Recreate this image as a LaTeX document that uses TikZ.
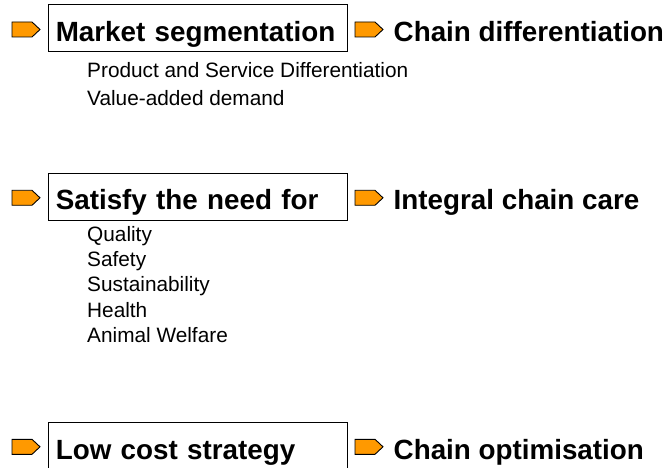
\documentclass[tikz,border=0pt]{standalone}
\usepackage{fontspec}
\setmainfont{Liberation Sans}
\usepackage{tikz}
\usetikzlibrary{positioning}
\usepackage{xcolor}
\definecolor{markorange}{HTML}{FF9900}

\begin{document}
\begin{tikzpicture}[x=1pt, y=-1pt,
		headbox/.style={draw, black, line width=1pt, anchor=base west, inner xsep=7.3pt, inner ysep=0pt,
			text width=284.4pt, align=left, text height=36.7pt, text depth=10.3pt,
			font=\fontsize{27.8}{30}\selectfont\bfseries},
		goal/.style={anchor=base west, inner sep=0pt, font=\fontsize{27.8}{30}\selectfont\bfseries},
		subitem/.style={anchor=base west, inner sep=0pt, font=\fontsize{20.8}{24}\selectfont},
		marker/.style={draw, black, line width=0.9pt, fill=markorange, line join=miter}]
				    		\useasboundingbox (0, 0) rectangle (665, 468);
				    		% differentiation
				    		\node[headbox] (market) at (48, 41.7) {Market segmentation};
				    		\node[goal] (differ) at (393.5, 41.7) {Chain differentiation};
				    		\node[subitem] (prod) at (87, 78) {Product and Service Differentiation};
				    		\node[subitem] (value) at (87, 106) {Value-added demand};
				    		% integral care
				    		\node[headbox] (satisfy) at (48, 210) {Satisfy the need for};
				    		\node[goal] (care) at (393.5, 210) {Integral chain care};
				    		\node[subitem] (quality) at (87, 242) {Quality};
				    		\node[subitem] (safety) at (87, 267) {Safety};
				    		\node[subitem] (sustain) at (87, 292) {Sustainability};
				    		\node[subitem] (health) at (87, 317) {Health};
				    		\node[subitem] (welfare) at (87, 342) {Animal Welfare};
				    		% optimisation
				    		\node[headbox, text depth=20pt] (lowcost) at (48, 459) {Low cost strategy};
				    		\node[goal] (optim) at (393.5, 459) {Chain optimisation};
				    		% orange markers
				    		\foreach \x/\y in {12/22, 355/22, 12/190.3, 355/190.3, 12/439.3, 355/439.3}
				    			\draw[marker] (\x, \y) -- ++(20, 0) -- ++(8, 7.5) -- ++(-8, 7.5) -- ++(-20, 0) -- cycle;
				    	\end{tikzpicture}
\end{document}
